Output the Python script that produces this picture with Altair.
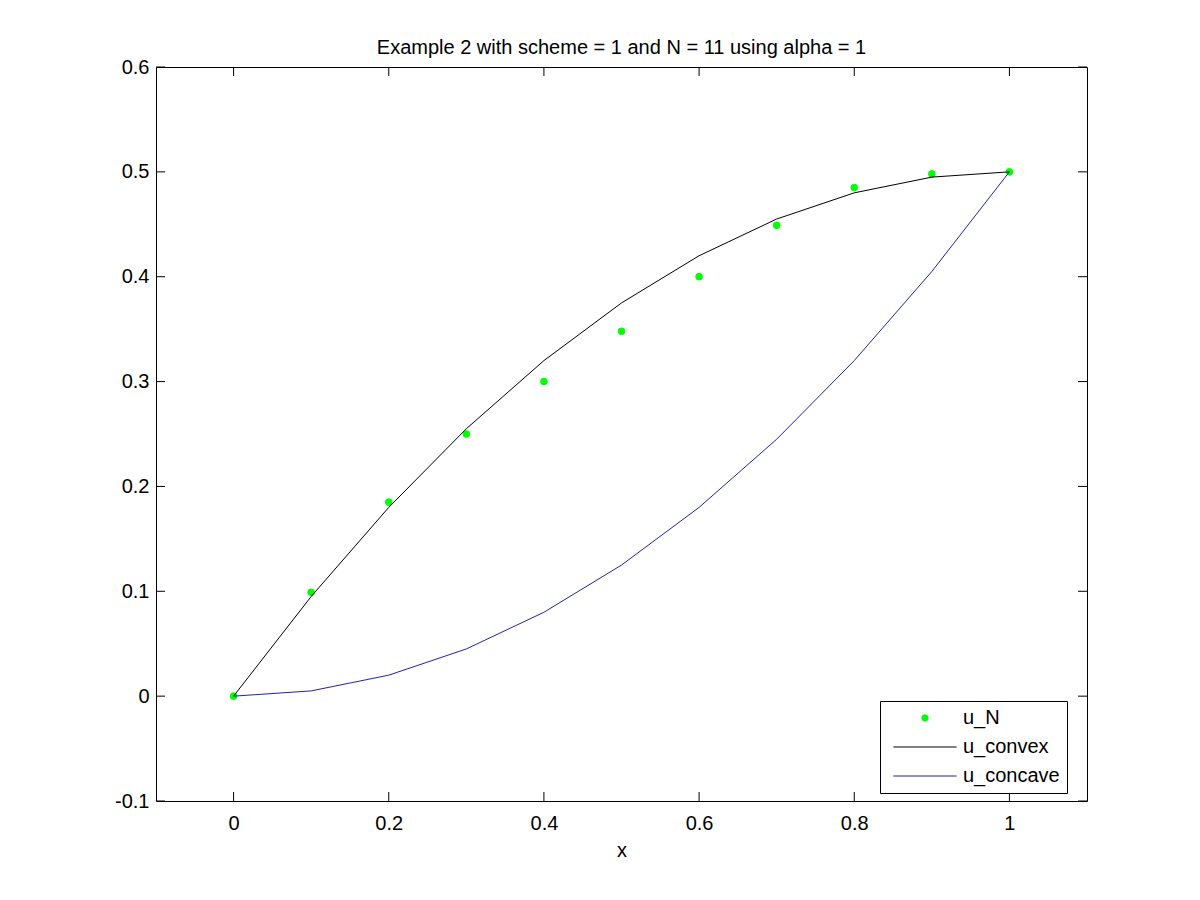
import altair as alt
import pandas as pd

# ---- data ----
xs = [0.0, 0.1, 0.2, 0.3, 0.4, 0.5, 0.6, 0.7, 0.8, 0.9, 1.0]
u_N = [0.0, 0.099, 0.185, 0.25, 0.30, 0.348, 0.40, 0.449, 0.485, 0.498, 0.50]
u_convex = [0.0, 0.095, 0.18, 0.255, 0.32, 0.375, 0.42, 0.455, 0.48, 0.495, 0.50]
u_concave = [0.0, 0.005, 0.02, 0.045, 0.08, 0.125, 0.18, 0.245, 0.32, 0.405, 0.50]

series_names = ["u_N", "u_convex", "u_concave"]
series_colors = ["#00ff00", "#000000", "#2222aa"]

x_ticks = [0, 0.2, 0.4, 0.6, 0.8, 1]
y_ticks = [-0.1, 0, 0.1, 0.2, 0.3, 0.4, 0.5, 0.6]

title_text = "Example 2 with scheme = 1 and N = 11 using alpha = 1"

W, H = 931, 734
FONT = "Liberation Sans"
FS = 20

pts = pd.DataFrame({"x": xs, "y": u_N, "series": "u_N"})
lines = pd.concat([
    pd.DataFrame({"x": xs, "y": u_convex, "series": "u_convex", "o": range(len(xs))}),
    pd.DataFrame({"x": xs, "y": u_concave, "series": "u_concave", "o": range(len(xs))}),
])
xt = pd.DataFrame({"x": x_ticks})
yt = pd.DataFrame({"y": y_ticks})

xscale = alt.Scale(domain=[-0.1, 1.1], nice=False, zero=False)
yscale = alt.Scale(domain=[-0.1, 0.6], nice=False, zero=False)

xaxis = alt.Axis(values=x_ticks, labelExpr="'' + datum.value", title="x",
                 grid=False, ticks=False, tickSize=0, domain=False,
                 labelPadding=12, titlePadding=7, labelFont=FONT, labelFontSize=FS,
                 titleFont=FONT, titleFontSize=FS, titleFontWeight="normal",
                 labelColor="black", titleColor="black", labelFlush=False)
yaxis = alt.Axis(values=y_ticks, labelExpr="'' + datum.value", title=None,
                 grid=False, ticks=False, tickSize=0, domain=False,
                 labelPadding=7, labelFont=FONT, labelFontSize=FS,
                 labelColor="black", labelFlush=False)

legend = alt.Legend(
    title=None, orient="none", legendX=724, legendY=634,
    labelFont=FONT, labelFontSize=FS, labelColor="black",
    strokeColor="black", fillColor="white", padding=7,
    rowPadding=9, symbolSize=40, symbolOffset=28, labelOffset=28,
    symbolStrokeWidth=1,
)

fill = alt.Fill("series:N", scale=alt.Scale(domain=series_names, range=series_colors),
                legend=legend, sort=series_names)
stroke = alt.Stroke("series:N", scale=alt.Scale(domain=series_names, range=series_colors),
                    legend=legend, sort=series_names)
shape = alt.Shape("series:N", scale=alt.Scale(domain=series_names,
                  range=["circle", "M-10,0H10", "M-10,0H10"]),
                  legend=legend, sort=series_names)

X = alt.X("x:Q", scale=xscale, axis=xaxis)
Y = alt.Y("y:Q", scale=yscale, axis=yaxis)

points = alt.Chart(pts).mark_point(filled=True, size=45, opacity=1, strokeWidth=1).encode(
    x=X, y=Y, fill=fill, stroke=stroke, shape=shape)

curves = alt.Chart(lines).mark_line(strokeWidth=1).encode(
    x=X, y=Y, stroke=stroke, order="o:Q")

tl = 9
xt_bottom = alt.Chart(xt).mark_rule(color="black", strokeWidth=1).encode(
    x=X, y=alt.value(H), y2=alt.value(H - tl))
xt_top = alt.Chart(xt).mark_rule(color="black", strokeWidth=1).encode(
    x=X, y=alt.value(0), y2=alt.value(tl))
yt_left = alt.Chart(yt).mark_rule(color="black", strokeWidth=1).encode(
    y=Y, x=alt.value(0), x2=alt.value(tl))
yt_right = alt.Chart(yt).mark_rule(color="black", strokeWidth=1).encode(
    y=Y, x=alt.value(W), x2=alt.value(W - tl))

chart = alt.layer(points, curves, xt_bottom, xt_top, yt_left, yt_right).properties(
    width=W, height=H,
    title=alt.Title(title_text, font=FONT, fontSize=FS, fontWeight="normal",
                    color="black", anchor="middle", offset=9, dy=10),
    autosize=alt.AutoSizeParams(type="none"),
    padding={"left": 148, "top": 59, "right": 60, "bottom": 91},
).configure(background="white").configure_view(stroke="black", strokeWidth=1)

chart.save("out.html", embed_options={"renderer": "svg", "actions": False})
